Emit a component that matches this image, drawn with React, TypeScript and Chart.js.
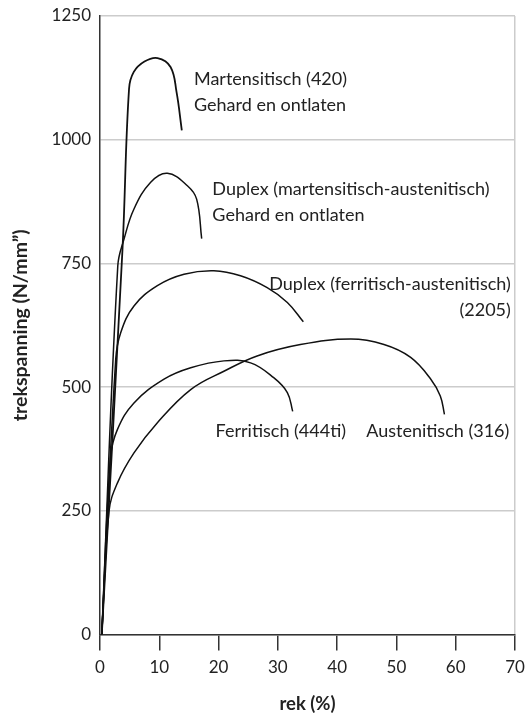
import React, { useEffect, useRef } from "react";
import { Chart, registerables } from "chart.js";

Chart.register(...registerables);

// Strain (%) and stress (N/mm²)
const martStrain = [0.3, 3.8, 4.9, 5.7, 7.5, 9.7, 11.9, 12.9, 13.8];
const martStress = [0, 780, 1103, 1137, 1158, 1165, 1147, 1097, 1019];

const duplexMartStrain = [0.3, 3.0, 4.05, 5.73, 8.55, 11.37, 14.74, 16.3, 17.15];
const duplexMartStress = [0, 745, 799, 860, 914, 932, 907, 880, 800];

const duplexFerrStrain = [0.3, 2.65, 3.49, 5.73, 9.68, 14.17, 19.2, 23.7, 28.2, 31.6, 34.3];
const duplexFerrStress = [0, 556, 610, 664, 705, 728, 735, 725, 701, 671, 632];

const ferrStrain = [0.3, 1.8, 2.93, 5.73, 10.8, 15.3, 20.9, 25.4, 29.3, 31.6, 32.5];
const ferrStress = [0, 360, 414, 468, 516, 539, 553, 549, 519, 489, 451];

const austStrain = [0.3, 1.52, 2.93, 5.73, 9.68, 15.3, 20.9, 26.5, 33.8, 42.3, 47.9, 52.4, 55.8, 57.4, 58.1];
const austStress = [0, 249, 306, 367, 428, 495, 532, 563, 586, 597, 586, 560, 516, 482, 445];

const xTicks = [0, 10, 20, 30, 40, 50, 60, 70];
const yTicks = [0, 250, 500, 750, 1000, 1250];

// Curve labels: text lines, anchor (data units), alignment
const labelTexts = [
  ["Martensitisch (420)", "Gehard en ontlaten"],
  ["Duplex (martensitisch-austenitisch)", "Gehard en ontlaten"],
  ["Duplex (ferritisch-austenitisch)", "(2205)"],
  ["Ferritisch (444ti)"],
  ["Austenitisch (316)"],
];
const labelX = [15.85, 18.95, 69.3, 19.5, 44.9];
const labelY = [1123, 900, 708, 410, 410];
const labelLineStep = [53, 52, 53, 0, 0];
const labelAlign = ["left", "left", "right", "left", "left"];

const zip = (xs: number[], ys: number[]) => xs.map((x, i) => ({ x, y: ys[i] }));

const FONT = "Lato, 'Open Sans', sans-serif";

const labelPlugin = {
  id: "curveLabels",
  afterDatasetsDraw(chart: any) {
    const { ctx, scales } = chart;
    ctx.save();
    ctx.fillStyle = "#222";
    ctx.font = `18px ${FONT}`;
    ctx.textBaseline = "middle";
    labelTexts.forEach((lines, i) => {
      ctx.textAlign = labelAlign[i];
      lines.forEach((t, j) => {
        const px = scales.x.getPixelForValue(labelX[i]);
        const py = scales.y.getPixelForValue(labelY[i] - j * labelLineStep[i]);
        ctx.fillText(t, px, py);
      });
    });
    ctx.restore();
  },
};

export default function App() {
  const ref = useRef<HTMLCanvasElement | null>(null);
  useEffect(() => {
    if (!ref.current) return;
    const line = (data: any[], w = 1.5) => ({
      data,
      borderColor: "#111",
      borderWidth: w,
      pointRadius: 0,
      fill: false,
      tension: 0.4,
    });
    const chart = new Chart(ref.current, {
      type: "line",
      data: {
        datasets: [
          line(zip(martStrain, martStress), 1.8),
          line(zip(duplexMartStrain, duplexMartStress)),
          line(zip(duplexFerrStrain, duplexFerrStress)),
          line(zip(ferrStrain, ferrStress)),
          line(zip(austStrain, austStress)),
        ],
      },
      options: {
        animation: false,
        responsive: true,
        maintainAspectRatio: false,
        layout: { padding: { top: 16, right: 11, left: 0, bottom: 0 } },
        plugins: { legend: { display: false }, tooltip: { enabled: false } },
        scales: {
          x: {
            type: "linear",
            min: 0,
            max: 70,
            afterBuildTicks: (s: any) => {
              s.ticks = xTicks.map((v) => ({ value: v }));
            },
            afterFit: (s: any) => {
              s.height = 78.5;
              s.paddingLeft = 0;
              s.paddingRight = 0;
            },
            ticks: {
              color: "#222",
              font: { size: 17, family: FONT },
              padding: 7,
              callback: (v: any) => String(v),
            },
            grid: {
              color: (c: any) => (c.tick && c.tick.value === 70 ? "#cccccc" : "rgba(0,0,0,0)"),
              tickColor: "#333",
              tickLength: 16,
              lineWidth: 1.5,
            },
            border: { color: "#333", width: 1.5 },
            title: {
              display: true,
              text: "rek (%)",
              color: "#222",
              font: { size: 18.5, weight: "bold", family: FONT, lineHeight: 1 },
              padding: { top: 0, bottom: 0 },
            },
          },
          y: {
            type: "linear",
            min: 0,
            max: 1250,
            afterBuildTicks: (s: any) => {
              s.ticks = yTicks.map((v) => ({ value: v }));
            },
            afterFit: (s: any) => {
              s.width = 100;
              s.paddingTop = 0;
              s.paddingBottom = 0;
            },
            ticks: {
              color: "#222",
              font: { size: 17, family: FONT },
              padding: 9,
              callback: (v: any) => String(v),
            },
            grid: { color: "#cccccc", lineWidth: 1.5, drawTicks: false },
            border: { color: "#333", width: 1.5 },
            title: {
              display: true,
              text: "trekspanning (N/mm”)",
              color: "#222",
              font: { size: 19.5, weight: "bold", family: FONT, lineHeight: 1 },
              padding: { top: 10.5, bottom: 0 },
            },
          },
        },
      },
      plugins: [labelPlugin],
    });
    return () => chart.destroy();
  }, []);
  return (
    <div style={{ position: "absolute", left: 0, top: 0, width: 526, height: 713 }}>
      <canvas ref={ref} />
    </div>
  );
}
